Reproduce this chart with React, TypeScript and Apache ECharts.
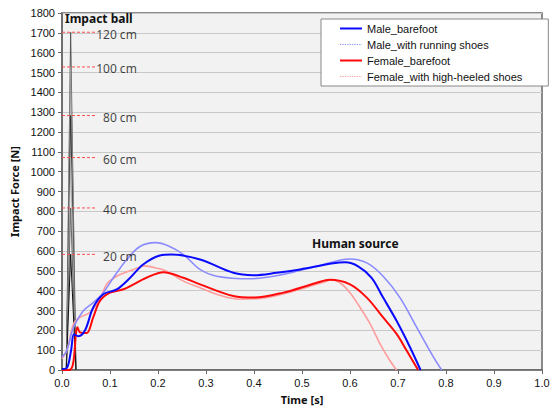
import React, { useEffect, useRef } from "react";
import * as echarts from "echarts";

// Human source curves: [time s, force N]
const maleBarefoot: number[][] = [
  [0, 5], [0.01, 10], [0.019, 100], [0.025, 180], [0.034, 170], [0.048, 200], [0.065, 315],
  [0.086, 382], [0.114, 406], [0.142, 465], [0.169, 532], [0.204, 577], [0.228, 582],
  [0.2875, 557], [0.357, 490], [0.399, 478], [0.447, 490], [0.496, 507], [0.565, 538],
  [0.59, 543], [0.617, 523], [0.645, 465], [0.669, 365], [0.697, 248], [0.725, 115], [0.747, 0],
];
const maleRunning: number[][] = [
  [0, 65], [0.01, 98], [0.024, 215], [0.044, 298], [0.065, 340], [0.086, 390], [0.107, 465],
  [0.135, 557], [0.1625, 623], [0.195, 642], [0.222, 625], [0.253, 582], [0.2875, 507],
  [0.322, 473], [0.392, 460], [0.461, 482], [0.531, 523], [0.6, 560], [0.635, 540],
  [0.669, 473], [0.704, 365], [0.739, 215], [0.774, 65], [0.791, 0],
];
const femaleBarefoot: number[][] = [
  [0, 0], [0.015, 0], [0.022, 20], [0.026, 90], [0.029, 182], [0.032, 215], [0.0375, 190],
  [0.051, 186], [0.065, 265], [0.079, 348], [0.1, 390], [0.128, 407], [0.149, 432],
  [0.176, 465], [0.211, 493], [0.253, 465], [0.2875, 432], [0.357, 373], [0.399, 365],
  [0.461, 390], [0.531, 440], [0.558, 455], [0.6, 432], [0.635, 365], [0.669, 265],
  [0.697, 182], [0.718, 98], [0.742, 0],
];
const femaleHeels: number[][] = [
  [0, 57], [0.01, 98], [0.024, 232], [0.0375, 265], [0.058, 290], [0.079, 357], [0.093, 432],
  [0.114, 473], [0.149, 507], [0.172, 525], [0.2, 512], [0.218, 498], [0.253, 448],
  [0.2875, 415], [0.322, 382], [0.371, 357], [0.426, 365], [0.496, 407], [0.551, 448],
  [0.56, 455], [0.579, 440], [0.6, 390], [0.621, 315], [0.642, 232], [0.6625, 132],
  [0.683, 48], [0.697, 0],
];

// Impact ball drop heights and peak forces
const dropHeights: string[] = ["120 cm", "100 cm", "80 cm", "60 cm", "40 cm", "20 cm"];
const impactPeaks: number[] = [1703, 1528, 1283, 1071, 817, 583];
const impactTimes: number[] = [0.009, 0.018, 0.029];
const impactColors: string[] = ["#555555", "#999999", "#333333", "#aaaaaa", "#666666", "#111111"];
const refLineSpan: number[] = [0, 0.07];
const refLabelX: number = 0.157;

const yTicks: number[] = [0, 1800, 100];
const xTicks: number[] = [0, 1, 0.1];

export default function App() {
  const ref = useRef<HTMLDivElement>(null);
  useEffect(() => {
    if (!ref.current) return;
    const chart = echarts.init(ref.current, undefined, { renderer: "svg" });

    const impactSeries = impactPeaks.map((p, i) => ({
      name: "impact_" + dropHeights[i],
      type: "line",
      data: [[impactTimes[0], 0], [impactTimes[1], p], [impactTimes[2], 0]],
      showSymbol: false,
      symbol: "none",
      lineStyle: { color: impactColors[i], width: 1 },
      itemStyle: { color: impactColors[i] },
      z: 1,
    }));

    const dashSeries = impactPeaks.map((p, i) => ({
      name: "ref_" + dropHeights[i],
      type: "line",
      data: [[refLineSpan[0], p], [refLineSpan[1], p]],
      showSymbol: false,
      symbol: "none",
      lineStyle: { color: "#ff4d4d", type: [3, 2], width: 1 },
      itemStyle: { color: "#ff4d4d" },
      z: 7,
    }));

    const human = [
      { name: "Male_barefoot", data: maleBarefoot, color: "#0a0aff", width: 2, z: 5 },
      { name: "Male_with running shoes", data: maleRunning, color: "#8b8bff", width: 1.6, z: 3 },
      { name: "Female_barefoot", data: femaleBarefoot, color: "#ff0a0a", width: 2, z: 4 },
      { name: "Female_with high-heeled shoes", data: femaleHeels, color: "#ff9d9d", width: 1.6, z: 2 },
    ];

    const humanSeries = human.map((h) => ({
      name: h.name,
      type: "line",
      data: h.data,
      smooth: 0.35,
      showSymbol: false,
      symbol: "none",
      lineStyle: { color: h.color, width: h.width },
      itemStyle: { color: h.color },
      z: h.z,
    }));

    const labelSeries = {
      name: "refs",
      type: "scatter",
      symbol: "circle",
      symbolSize: 1,
      itemStyle: { color: "rgba(0,0,0,0)" },
      data: impactPeaks.map((p, i) => [refLabelX, p, dropHeights[i]]),
      label: {
        show: true,
        position: "left",
        distance: 0,
        offset: [0, 2],
        formatter: (pr: any) => pr.value[2],
        fontFamily: "Noto Sans",
        fontSize: 12,
        color: "#111",
      },
      z: 6,
    };

    chart.setOption({
      animation: false,
      textStyle: { fontFamily: "Liberation Sans" },
      grid: {
        left: 62,
        right: 13,
        top: 13,
        bottom: 37,
        show: true,
        backgroundColor: "#f2f2f2",
        borderColor: "#666",
        borderWidth: 1.5,
      },
      legend: {
        data: [
          { name: "Male_barefoot" },
          { name: "Male_with running shoes", lineStyle: { type: "dotted", width: 1.2 } },
          { name: "Female_barefoot" },
          { name: "Female_with high-heeled shoes", lineStyle: { type: "dotted", width: 1.2 } },
        ],
        orient: "vertical",
        left: 321,
        top: 19,
        backgroundColor: "#fff",
        borderColor: "#888",
        borderWidth: 1,
        borderRadius: 0,
        padding: [4, 26, 4, 18],
        itemGap: 5,
        itemWidth: 22,
        itemHeight: 11,
        itemStyle: { opacity: 0 },
        textStyle: { fontSize: 11, color: "#111", fontFamily: "Liberation Sans" },
      },
      xAxis: {
        type: "value",
        min: xTicks[0],
        max: xTicks[1],
        interval: xTicks[2],
        name: "Time [s]",
        nameLocation: "middle",
        nameGap: 24,
        nameTextStyle: { fontWeight: "bold", fontSize: 11, color: "#111", fontFamily: "Noto Sans" },
        axisLine: { lineStyle: { color: "#666", width: 1.5 } },
        axisTick: { show: true, length: 4, lineStyle: { color: "#666" } },
        axisLabel: { fontSize: 11, color: "#111", margin: 7, formatter: (v: number) => v.toFixed(1) },
        splitLine: { show: false },
      },
      yAxis: {
        type: "value",
        min: yTicks[0],
        max: yTicks[1],
        interval: yTicks[2],
        name: "Impact Force [N]",
        nameLocation: "middle",
        nameGap: 42,
        nameTextStyle: { fontWeight: "bold", fontSize: 11, color: "#111", fontFamily: "Noto Sans" },
        axisLine: { show: true, lineStyle: { color: "#666", width: 1.5 } },
        axisTick: { show: true, length: 4, lineStyle: { color: "#666" } },
        axisLabel: { fontSize: 11, color: "#111", margin: 7, formatter: (v: number) => String(v) },
        splitLine: { show: true, lineStyle: { color: "#c8c8c8", width: 1 } },
      },
      graphic: [
        {
          type: "text",
          left: 65,
          top: 12,
          z: 100,
          style: { text: "Impact ball", fontFamily: "Noto Sans", fontWeight: "bold", fontSize: 12, fill: "#111" },
        },
        {
          type: "text",
          left: 312,
          top: 237,
          z: 100,
          style: { text: "Human source", fontFamily: "Noto Sans", fontWeight: "bold", fontSize: 12, fill: "#111" },
        },
      ],
      series: [...impactSeries, ...humanSeries, ...dashSeries, labelSeries],
    });
    return () => chart.dispose();
  }, []);
  return (
    <div
      ref={ref}
      style={{ position: "fixed", left: 0, top: 0, width: 555, height: 410, background: "#fff" }}
    />
  );
}
